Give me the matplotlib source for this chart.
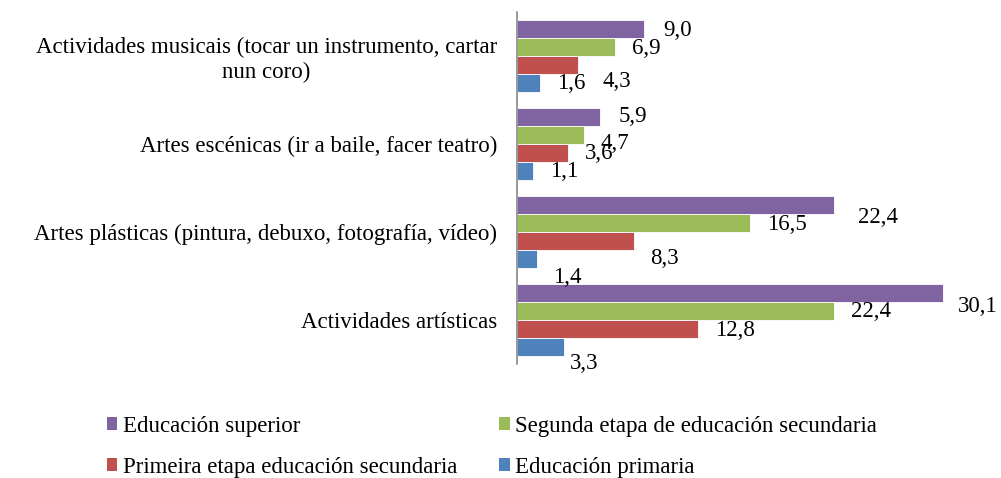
import matplotlib
matplotlib.use('Agg')
import matplotlib.pyplot as plt
import numpy as np
from matplotlib.patches import Patch

plt.rcParams['font.family'] = ['Liberation Serif', 'DejaVu Serif']
plt.rcParams['font.size'] = 16.5

# categories from bottom to top
categorias = ['Actividades artísticas',
              'Artes plásticas (pintura, debuxo, fotografía, vídeo)',
              'Artes escénicas (ir a baile, facer teatro)',
              'Actividades musicais (tocar un instrumento, cartar\nnun coro)']

series = ['Educación superior', 'Segunda etapa de educación secundaria',
          'Primeira etapa educación secundaria', 'Educación primaria']
cores = ['#8064A2', '#9BBB59', '#C0504D', '#4F81BD']

superior = [30.1, 22.4, 5.9, 9.0]
segunda = [22.4, 16.5, 4.7, 6.9]
primeira = [12.8, 8.3, 3.6, 4.3]
primaria = [3.3, 1.4, 1.1, 1.6]
valores = [superior, segunda, primeira, primaria]

# label offsets (pixels, dx right / dy down) as placed in the original
desp = [
    [(15, 14), (24, 13), (18, 0), (19, 2)],
    [(17, 1), (17, 2), (17, 9), (17, 2)],
    [(17, 1), (16, 17), (17, 0), (25, 16)],
    [(6, 16), (16, 18), (17, 0), (17, 0)],
]

fig = plt.figure(figsize=(10.01, 4.78), dpi=100)
ax = fig.add_axes([517 / 1001, 1 - 364 / 478, (991 - 517) / 1001, 352 / 478])

y = np.arange(len(categorias))
paso = 0.205
for i, (vals, cor) in enumerate(zip(valores, cores)):
    ypos = y + (1.5 - i) * paso
    ax.barh(ypos, vals, height=0.2, color=cor, edgecolor='white', linewidth=0.6)
    for j, v in enumerate(vals):
        dx, dy = desp[i][j]
        ax.annotate(f'{v:.1f}'.replace('.', ','), (v, ypos[j]),
                    xytext=(dx, -dy), textcoords='offset pixels',
                    ha='left', va='center')

ax.set_xlim(0, 33.5)
ax.set_ylim(-0.5, len(categorias) - 0.5)
ax.set_yticks(y)
ax.set_yticklabels(categorias, multialignment='center')
ax.tick_params(axis='y', length=0, pad=14.4)
ax.set_xticks([])
for s in ['top', 'right', 'bottom']:
    ax.spines[s].set_visible(False)
ax.spines['left'].set_color('#888888')
ax.spines['left'].set_linewidth(1.2)

# legend: column-major order for 2 columns
orden = [0, 2, 1, 3]
handles = [Patch(facecolor=cores[k], edgecolor='none') for k in orden]
labels = [series[k] for k in orden]
fig.legend(handles, labels, ncol=2, loc='upper left',
           bbox_to_anchor=(86 / 1001, 1 - 395 / 478), frameon=False,
           handlelength=0.45, handleheight=0.45, handletextpad=0.25,
           columnspacing=1.85, labelspacing=0.88)

fig.savefig('out.png', dpi=100)
